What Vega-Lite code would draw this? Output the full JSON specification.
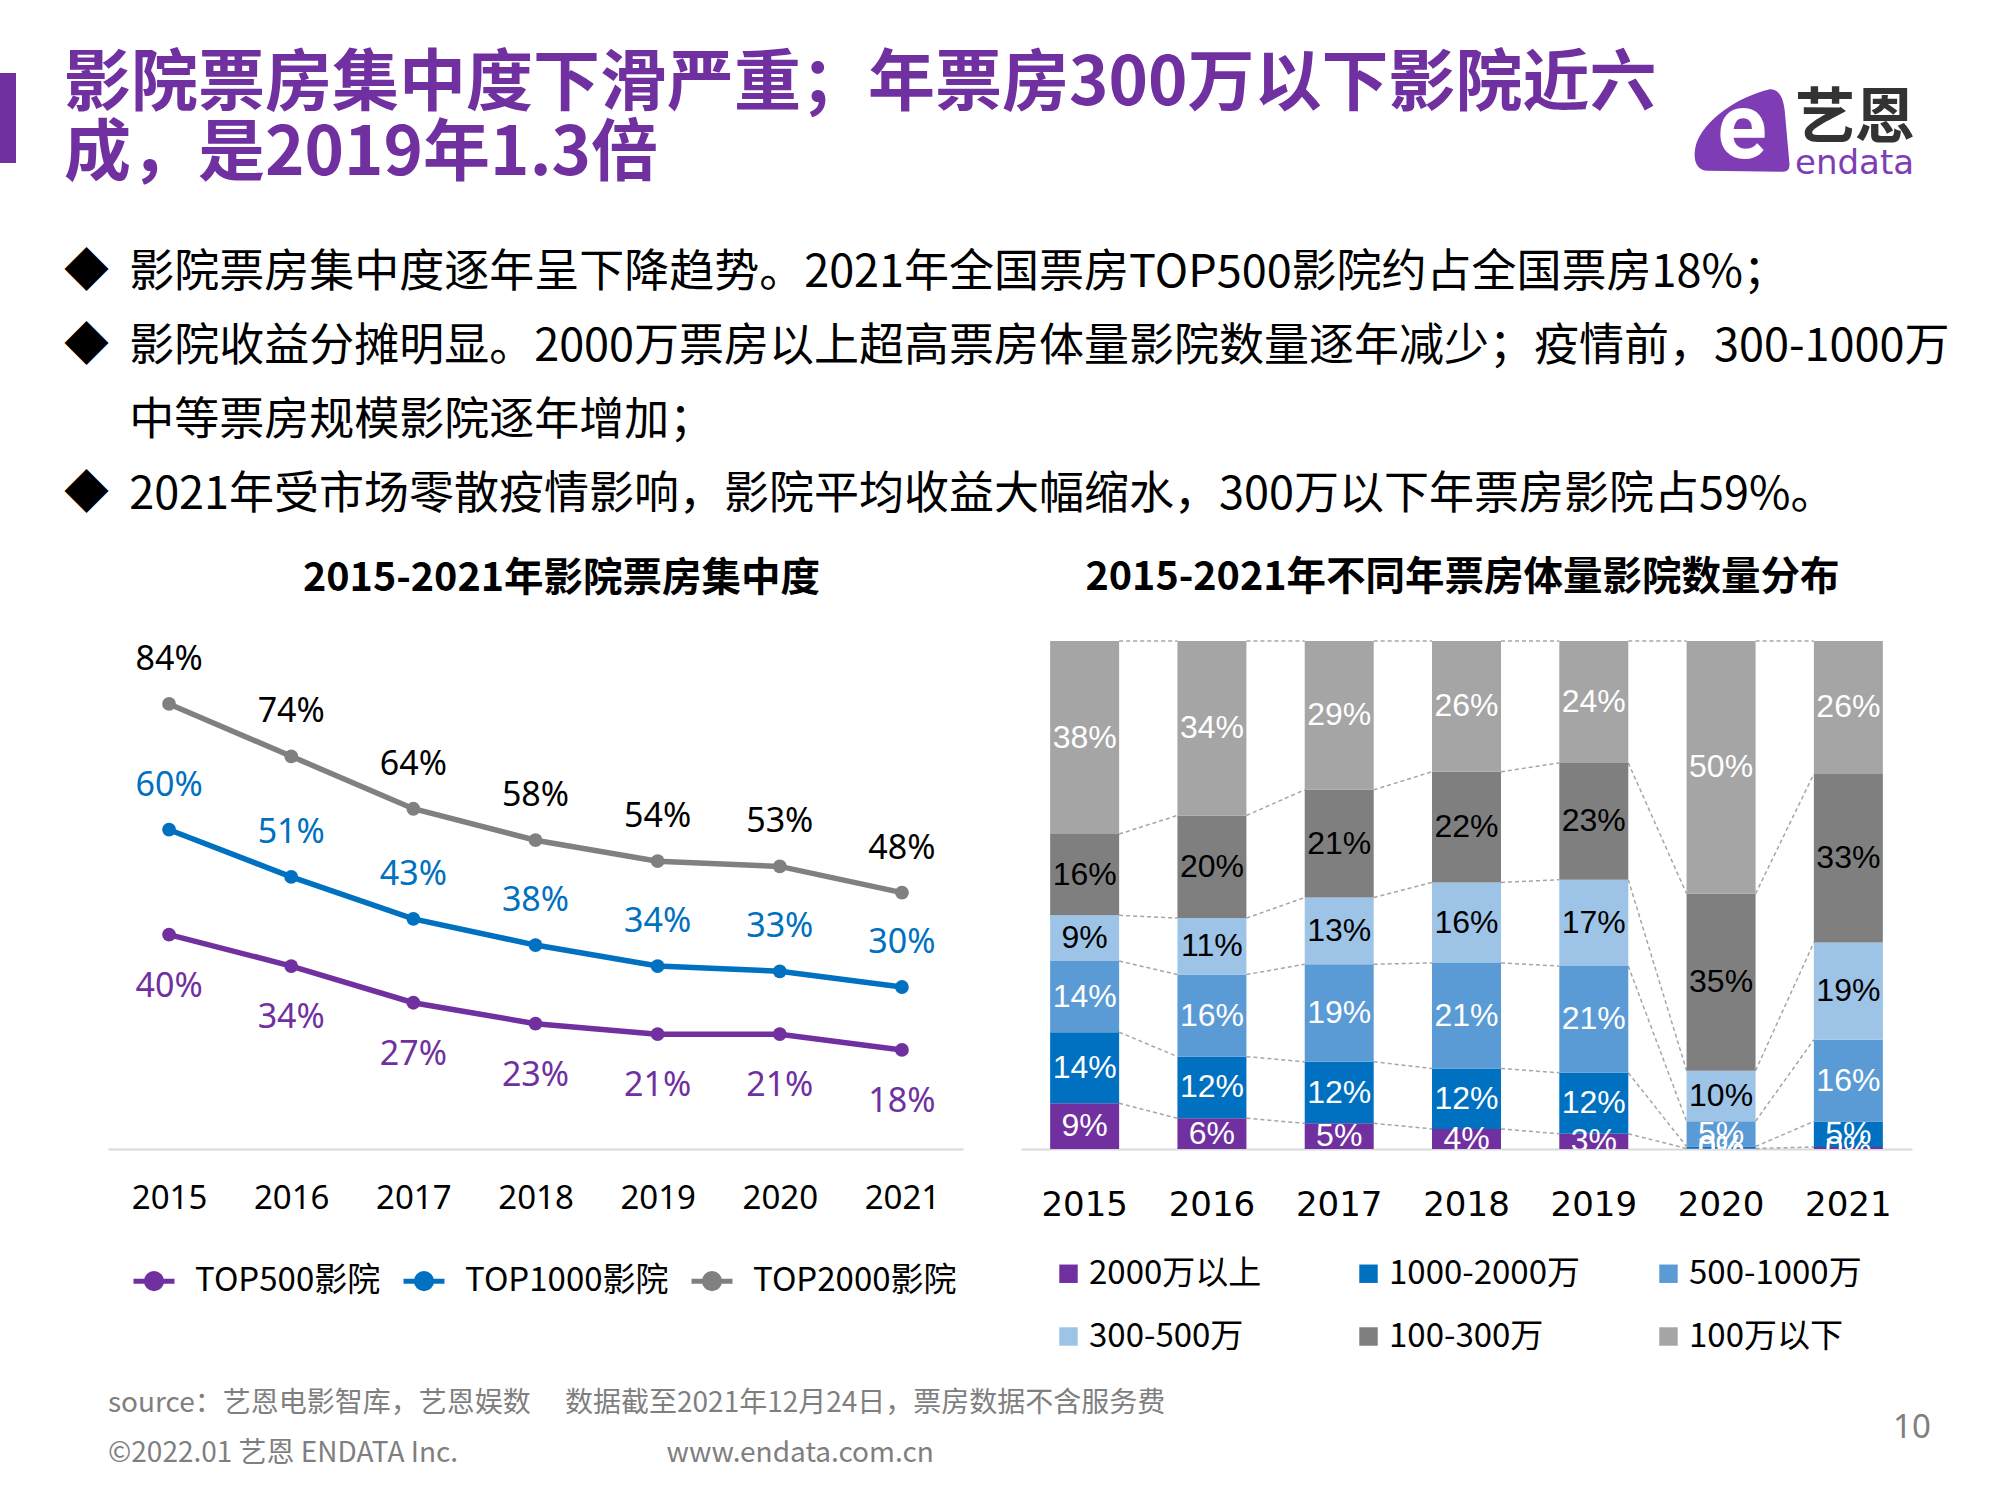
{
  "$schema": "https://vega.github.io/schema/vega-lite/v6.json",
  "background": "white",
  "padding": {"left": 0, "top": 51, "right": 0, "bottom": 0},
  "config": {"view": {"stroke": null}},
  "datasets": {
    "lines": [
      {"year": "2015", "series": "TOP2000影院", "value": 0.84},
      {"year": "2016", "series": "TOP2000影院", "value": 0.74},
      {"year": "2017", "series": "TOP2000影院", "value": 0.64},
      {"year": "2018", "series": "TOP2000影院", "value": 0.58},
      {"year": "2019", "series": "TOP2000影院", "value": 0.54},
      {"year": "2020", "series": "TOP2000影院", "value": 0.53},
      {"year": "2021", "series": "TOP2000影院", "value": 0.48},
      {"year": "2015", "series": "TOP1000影院", "value": 0.60},
      {"year": "2016", "series": "TOP1000影院", "value": 0.51},
      {"year": "2017", "series": "TOP1000影院", "value": 0.43},
      {"year": "2018", "series": "TOP1000影院", "value": 0.38},
      {"year": "2019", "series": "TOP1000影院", "value": 0.34},
      {"year": "2020", "series": "TOP1000影院", "value": 0.33},
      {"year": "2021", "series": "TOP1000影院", "value": 0.30},
      {"year": "2015", "series": "TOP500影院", "value": 0.40},
      {"year": "2016", "series": "TOP500影院", "value": 0.34},
      {"year": "2017", "series": "TOP500影院", "value": 0.27},
      {"year": "2018", "series": "TOP500影院", "value": 0.23},
      {"year": "2019", "series": "TOP500影院", "value": 0.21},
      {"year": "2020", "series": "TOP500影院", "value": 0.21},
      {"year": "2021", "series": "TOP500影院", "value": 0.18}
    ],
    "bars": [
      {"year": "2015", "cat": "2000万以上", "rank": 1, "value": 0.09},
      {"year": "2015", "cat": "1000-2000万", "rank": 2, "value": 0.14},
      {"year": "2015", "cat": "500-1000万", "rank": 3, "value": 0.14},
      {"year": "2015", "cat": "300-500万", "rank": 4, "value": 0.09},
      {"year": "2015", "cat": "100-300万", "rank": 5, "value": 0.16},
      {"year": "2015", "cat": "100万以下", "rank": 6, "value": 0.38},
      {"year": "2016", "cat": "2000万以上", "rank": 1, "value": 0.06},
      {"year": "2016", "cat": "1000-2000万", "rank": 2, "value": 0.12},
      {"year": "2016", "cat": "500-1000万", "rank": 3, "value": 0.16},
      {"year": "2016", "cat": "300-500万", "rank": 4, "value": 0.11},
      {"year": "2016", "cat": "100-300万", "rank": 5, "value": 0.20},
      {"year": "2016", "cat": "100万以下", "rank": 6, "value": 0.34},
      {"year": "2017", "cat": "2000万以上", "rank": 1, "value": 0.05},
      {"year": "2017", "cat": "1000-2000万", "rank": 2, "value": 0.12},
      {"year": "2017", "cat": "500-1000万", "rank": 3, "value": 0.19},
      {"year": "2017", "cat": "300-500万", "rank": 4, "value": 0.13},
      {"year": "2017", "cat": "100-300万", "rank": 5, "value": 0.21},
      {"year": "2017", "cat": "100万以下", "rank": 6, "value": 0.29},
      {"year": "2018", "cat": "2000万以上", "rank": 1, "value": 0.04},
      {"year": "2018", "cat": "1000-2000万", "rank": 2, "value": 0.12},
      {"year": "2018", "cat": "500-1000万", "rank": 3, "value": 0.21},
      {"year": "2018", "cat": "300-500万", "rank": 4, "value": 0.16},
      {"year": "2018", "cat": "100-300万", "rank": 5, "value": 0.22},
      {"year": "2018", "cat": "100万以下", "rank": 6, "value": 0.26},
      {"year": "2019", "cat": "2000万以上", "rank": 1, "value": 0.03},
      {"year": "2019", "cat": "1000-2000万", "rank": 2, "value": 0.12},
      {"year": "2019", "cat": "500-1000万", "rank": 3, "value": 0.21},
      {"year": "2019", "cat": "300-500万", "rank": 4, "value": 0.17},
      {"year": "2019", "cat": "100-300万", "rank": 5, "value": 0.23},
      {"year": "2019", "cat": "100万以下", "rank": 6, "value": 0.24},
      {"year": "2020", "cat": "2000万以上", "rank": 1, "value": 0.001},
      {"year": "2020", "cat": "1000-2000万", "rank": 2, "value": 0.004},
      {"year": "2020", "cat": "500-1000万", "rank": 3, "value": 0.05},
      {"year": "2020", "cat": "300-500万", "rank": 4, "value": 0.10},
      {"year": "2020", "cat": "100-300万", "rank": 5, "value": 0.35},
      {"year": "2020", "cat": "100万以下", "rank": 6, "value": 0.50},
      {"year": "2021", "cat": "2000万以上", "rank": 1, "value": 0.004},
      {"year": "2021", "cat": "1000-2000万", "rank": 2, "value": 0.05},
      {"year": "2021", "cat": "500-1000万", "rank": 3, "value": 0.16},
      {"year": "2021", "cat": "300-500万", "rank": 4, "value": 0.19},
      {"year": "2021", "cat": "100-300万", "rank": 5, "value": 0.33},
      {"year": "2021", "cat": "100万以下", "rank": 6, "value": 0.26}
    ]
  },
  "bounds": "flush",
  "spacing": 568,
  "vconcat": [
    {
      "bounds": "flush",
      "spacing": 48,
      "hconcat": [
        {"width": 16, "height": 90, "data": {"values": []}, "mark": "point", "view": {"fill": "#7030A0", "stroke": null}},
        {
          "width": 1625, "height": 1, "data": {"values": []}, "mark": "point",
          "title": {
            "text": ["影院票房集中度下滑严重；年票房300万以下影院近六", "成，是2019年1.3倍"],
            "subtitle": [
              "◆\u00a0\u00a0影院票房集中度逐年呈下降趋势。2021年全国票房TOP500影院约占全国票房18%；",
              "◆\u00a0\u00a0影院收益分摊明显。2000万票房以上超高票房体量影院数量逐年减少；疫情前，300-1000万",
              "\u200b\u3000\u00a0\u00a0中等票房规模影院逐年增加；",
              "◆\u00a0\u00a02021年受市场零散疫情影响，影院平均收益大幅缩水，300万以下年票房影院占59%。"
            ],
            "orient": "bottom", "anchor": "start", "frame": "group", "offset": -22,
            "font": "Noto Sans CJK SC", "fontSize": 67, "fontWeight": "bold", "color": "#7030A0", "lineHeight": 70,
            "subtitleFont": "Noto Sans CJK SC", "subtitleFontSize": 45, "subtitleFontWeight": "normal",
            "subtitleColor": "#000000", "subtitleLineHeight": 74, "subtitlePadding": 62
          }
        },
        {
          "width": 10, "height": 114, "data": {"values": [{}]},
          "layer": [
            {"mark": {"type": "point", "filled": true, "size": 9025, "opacity": 1, "color": "#7E3DB5",
              "shape": "M0.55,-0.85C0.75,-0.9,0.87,-0.7,0.9,-0.4L1,0.72C1,0.85,0.95,0.88,0.82,0.88L-0.72,0.86C-1,0.85,-1.05,0.55,-0.95,0.25C-0.7,-0.35,0.1,-0.75,0.55,-0.85Z"},
             "encoding": {}},
            {"mark": {"type": "text", "text": "e", "font": "Roboto", "fontWeight": "bold", "fontSize": 92, "color": "#ffffff", "baseline": "middle", "align": "center"},
             "encoding": {}}
          ]
        },
        {
          "width": 127, "height": 1, "data": {"values": []}, "mark": "point",
          "title": {
            "text": "艺恩", "subtitle": "endata",
            "orient": "bottom", "anchor": "start", "frame": "group", "offset": 17,
            "font": "Noto Sans CJK SC", "fontSize": 60, "fontWeight": "bold", "color": "#333333",
            "subtitleFont": "DejaVu Sans", "subtitleFontSize": 34, "subtitleColor": "#7E3DB5", "subtitlePadding": -4
          }
        }
      ]
    },
    {
      "bounds": "flush",
      "spacing": 739,
      "vconcat": [
        {
          "bounds": "flush",
          "spacing": 58,
          "resolve": {"scale": {"color": "independent"}, "legend": {"color": "independent"}},
          "hconcat": [
            {"width": 50, "height": 1, "data": {"values": []}, "mark": "point"},
            {
              "name": "leftchart",
              "width": 855, "height": 508,
              "data": {"name": "lines"},
              "title": {"text": "2015-2021年影院票房集中度", "anchor": "middle", "frame": "group", "offset": 42, "dx": 26,
                "font": "Noto Sans CJK SC", "fontSize": 39.5, "fontWeight": "bold", "color": "#000000"},
              "encoding": {
                "x": {"field": "year", "type": "ordinal", "scale": {"type": "point", "padding": 0.5},
                  "axis": {"title": null, "ticks": false, "labelAngle": 0, "labelFont": "Noto Sans", "labelFontSize": 33,
                    "labelColor": "#000000", "labelPadding": 33, "domainColor": "#d9d9d9", "domainWidth": 2, "grid": false}},
                "y": {"field": "value", "type": "quantitative", "scale": {"domain": [-0.009, 0.96], "zero": false, "nice": false}, "axis": null}
              },
              "layer": [
                {
                  "mark": {"type": "line", "strokeWidth": 5.5, "point": {"filled": true, "size": 190}},
                  "encoding": {
                    "color": {"field": "series", "type": "nominal",
                      "scale": {"domain": ["TOP500影院", "TOP1000影院", "TOP2000影院"], "range": ["#7030A0", "#0070C0", "#808080"]},
                      "legend": {"orient": "bottom", "direction": "horizontal", "columns": 3, "title": null, "offset": 20, "padding": 23,
                        "symbolType": "M-1,0L1,0M-0.37,0A0.37,0.37,0,1,0,0.37,0A0.37,0.37,0,1,0,-0.37,0Z",
                        "symbolSize": 1681, "symbolStrokeWidth": 5,
                        "labelFont": "Noto Sans CJK SC", "labelFontSize": 33, "labelColor": "#000000", "labelOffset": 18, "labelLimit": 400,
                        "columnPadding": 12}
                    }
                  }
                },
                {
                  "transform": [{"filter": "datum.series === 'TOP500影院'"}],
                  "mark": {"type": "text", "dy": 52, "font": "Noto Sans", "fontSize": 34, "color": "#7030A0", "baseline": "middle"},
                  "encoding": {"text": {"field": "value", "format": ".0%"}}
                },
                {
                  "transform": [{"filter": "datum.series === 'TOP1000影院'"}],
                  "mark": {"type": "text", "dy": -44, "font": "Noto Sans", "fontSize": 34, "color": "#0070C0", "baseline": "middle"},
                  "encoding": {"text": {"field": "value", "format": ".0%"}}
                },
                {
                  "transform": [{"filter": "datum.series === 'TOP2000影院'"}],
                  "mark": {"type": "text", "dy": -44, "font": "Noto Sans", "fontSize": 34, "color": "#000000", "baseline": "middle"},
                  "encoding": {"text": {"field": "value", "format": ".0%"}}
                }
              ]
            },
            {
              "width": 891, "height": 508,
              "data": {"name": "bars"},
              "title": {"text": "2015-2021年不同年票房体量影院数量分布", "anchor": "middle", "frame": "group", "offset": 42, "dx": -4,
                "font": "Noto Sans CJK SC", "fontSize": 39.5, "fontWeight": "bold", "color": "#000000"},
              "encoding": {
                "x": {"field": "year", "type": "ordinal", "scale": {"paddingInner": 0.458, "paddingOuter": 0.229},
                  "axis": {"title": null, "ticks": false, "labelAngle": 0, "labelFont": "DejaVu Sans", "labelFontSize": 34,
                    "labelColor": "#000000", "labelPadding": 39, "domainColor": "#d9d9d9", "domainWidth": 2, "grid": false}}
              },
              "layer": [
                {
                  "transform": [
                    {"stack": "value", "groupby": ["year"], "sort": [{"field": "rank", "order": "ascending"}], "as": ["y0", "y1"], "offset": "normalize"},
                    {"window": [{"op": "lead", "field": "y1", "as": "y1n"}, {"op": "lead", "field": "year", "as": "yearn"}],
                      "groupby": ["rank"], "sort": [{"field": "year", "order": "ascending"}]},
                    {"filter": "datum.yearn != null"}
                  ],
                  "mark": {"type": "rule", "strokeDash": [4, 3], "color": "#a6a6a6", "strokeWidth": 1.5},
                  "encoding": {
                    "x": {"field": "year", "type": "ordinal", "bandPosition": 1},
                    "x2": {"field": "yearn", "bandPosition": 0},
                    "y": {"field": "y1", "type": "quantitative", "scale": {"domain": [0, 1], "nice": false}, "axis": null},
                    "y2": {"field": "y1n"}
                  }
                },
                {
                  "mark": {"type": "bar"},
                  "encoding": {
                    "y": {"field": "value", "type": "quantitative", "stack": "normalize", "axis": null},
                    "color": {"field": "cat", "type": "nominal",
                      "scale": {"domain": ["2000万以上", "1000-2000万", "500-1000万", "300-500万", "100-300万", "100万以下"],
                        "range": ["#7030A0", "#0070C0", "#5B9BD5", "#9DC3E6", "#7F7F7F", "#A5A5A5"]},
                      "legend": {"orient": "bottom", "direction": "horizontal", "columns": 3, "title": null, "offset": 4, "padding": 31,
                        "symbolType": "square", "symbolSize": 340,
                        "labelFont": "Noto Sans CJK SC", "labelFontSize": 33, "labelColor": "#000000", "labelOffset": 4, "labelLimit": 400,
                        "columnPadding": 72, "rowPadding": 29, "gridAlign": "all"}},
                    "order": {"field": "rank"}
                  }
                },
                {
                  "mark": {"type": "text", "font": "Liberation Sans", "fontSize": 32, "clip": true, "baseline": "middle"},
                  "encoding": {
                    "y": {"field": "value", "type": "quantitative", "stack": "normalize", "bandPosition": 0.5, "axis": null},
                    "detail": {"field": "cat"},
                    "order": {"field": "rank"},
                    "text": {"field": "value", "format": ".0%"},
                    "color": {"condition": {"test": "datum.cat === '100-300万' || datum.cat === '300-500万'", "value": "#000000"}, "value": "#ffffff"}
                  }
                }
              ]
            }
          ]
        },
        {
          "bounds": "flush",
          "spacing": 58,
          "hconcat": [
            {"width": 50, "height": 1, "data": {"values": []}, "mark": "point"},
            {
              "width": 1727, "height": 1, "data": {"values": []}, "mark": "point",
              "title": {
                "text": ["source：艺恩电影智库，艺恩娱数\u3000\u00a0数据截至2021年12月24日，票房数据不含服务费", "©2022.01 艺恩 ENDATA Inc.\u3000\u3000\u3000\u3000\u3000\u3000\u3000\u00a0\u00a0www.endata.com.cn"],
                "orient": "bottom", "anchor": "start", "frame": "group", "offset": 9,
                "font": "Noto Sans CJK SC", "fontSize": 28, "fontWeight": "normal", "color": "#7f7f7f", "lineHeight": 50
              }
            },
            {
              "width": 37, "height": 1, "data": {"values": []}, "mark": "point",
              "title": {"text": "10", "orient": "bottom", "anchor": "start", "frame": "group", "offset": 31,
                "font": "Noto Sans", "fontSize": 33, "fontWeight": "normal", "color": "#7f7f7f"}
            }
          ]
        }
      ]
    }
  ]
}
